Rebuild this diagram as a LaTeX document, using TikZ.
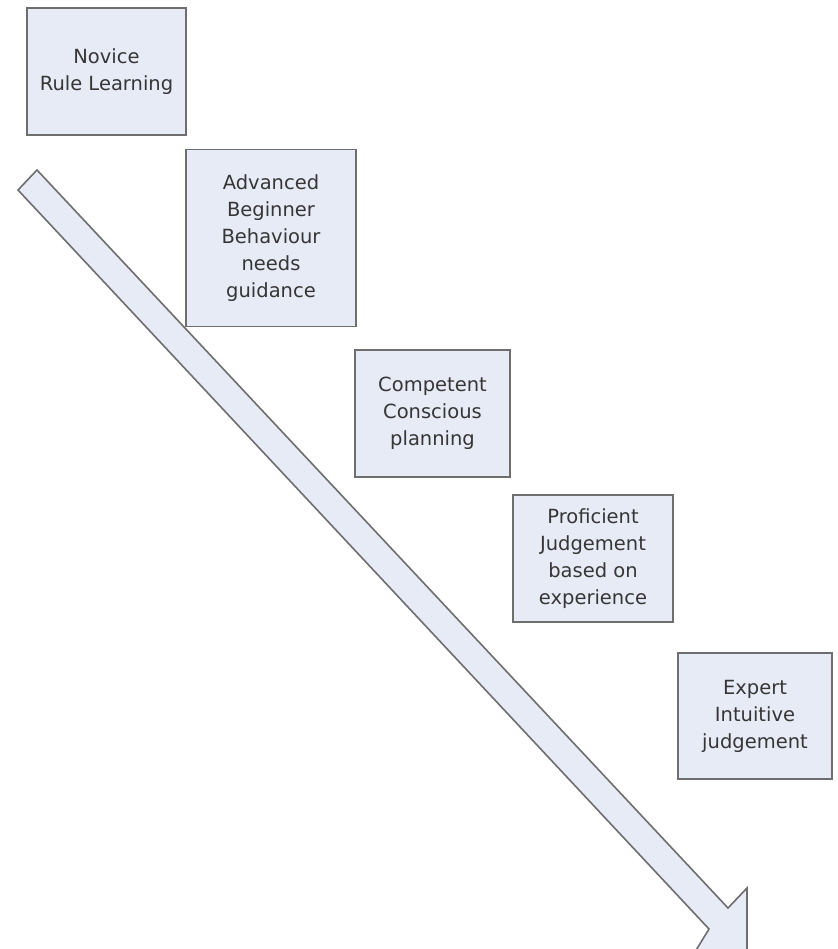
\documentclass[tikz,border=0pt]{standalone}
\usepackage{fontspec}
\setmainfont{DejaVu Sans}
\definecolor{boxfill}{HTML}{E7EBF6}
\definecolor{boxline}{HTML}{6E6E6E}
\definecolor{txt}{HTML}{363636}
\begin{document}
\begin{tikzpicture}[x=1pt,y=-1pt,
  stagebox/.style={draw=boxline, fill=boxfill, line width=1.6pt, align=center,
    text=txt, inner sep=0pt, font=\fontsize{19.5}{27}\selectfont}]
\useasboundingbox (0,0) rectangle (837,949);
% big arrow
\coordinate (A) at (37,170);
\coordinate (B) at (18,190);
\coordinate (C) at (728,908);
\coordinate (D) at (709,929);
\coordinate (E) at (747,888);
\coordinate (T) at (747,964);
\coordinate (F) at (690,960);
\draw[draw=boxline, fill=boxfill, line width=1.6pt, line join=miter]
  (A) -- (C) -- (E) -- (T) -- (F) -- (D) -- (B) -- cycle;
% boxes
\node[stagebox, minimum width=159pt, minimum height=127pt] (n1) at (106.5,71.5) {Novice\\Rule Learning};
\node[stagebox, minimum width=170pt, minimum height=177pt] (n2) at (271,238) {Advanced\\Beginner\\Behaviour\\needs\\guidance};
\node[stagebox, minimum width=155pt, minimum height=127pt] (n3) at (432.5,413.5) {Competent\\Conscious\\planning};
\node[stagebox, minimum width=160pt, minimum height=127pt] (n4) at (593,558.5) {Proficient\\Judgement\\based on\\experience};
\node[stagebox, minimum width=154pt, minimum height=126pt] (n5) at (755,716) {Expert\\Intuitive\\judgement};
\end{tikzpicture}
\end{document}
